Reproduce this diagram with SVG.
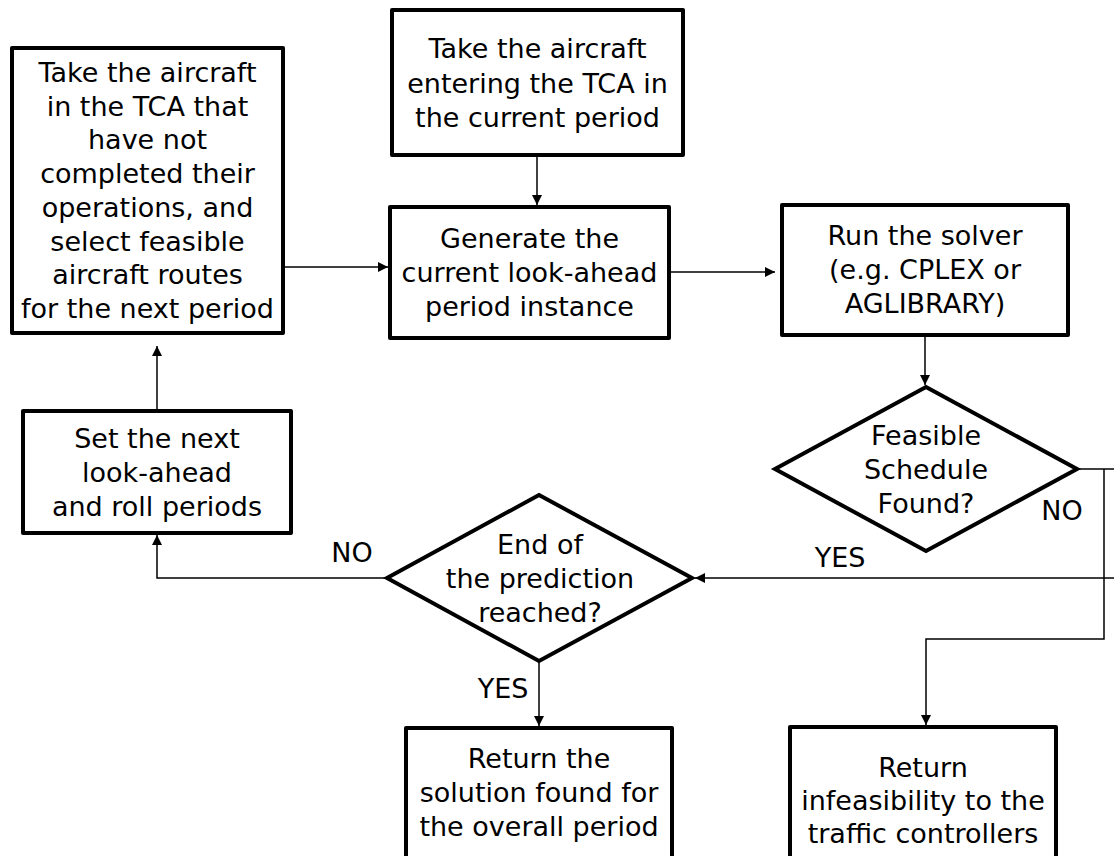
<svg xmlns="http://www.w3.org/2000/svg" width="1114" height="856" viewBox="0 0 1114 856">
  <style>
    .box { fill: #ffffff; stroke: #000000; stroke-width: 4; stroke-linejoin: round; }
    .dia { fill: #ffffff; stroke: #000000; stroke-width: 4; stroke-linejoin: miter; }
    .lbl { font-family: "DejaVu Sans", "Liberation Sans", sans-serif; font-size: 27px; fill: #000000; text-anchor: middle; }
    .conn { fill: none; stroke: #000000; stroke-width: 1.5; }
  </style>
  <defs>
    <marker id="arrow" viewBox="0 0 10 10" refX="10" refY="5" markerWidth="10" markerHeight="10" markerUnits="userSpaceOnUse" orient="auto">
      <path d="M0,0 L10,5 L0,10 Z" fill="#000000"/>
    </marker>
  </defs>

  <!-- connectors -->
  <g id="connectors">
    <path class="conn" d="M537,146 V205" marker-end="url(#arrow)"/>
    <path class="conn" d="M285,267 H388" marker-end="url(#arrow)"/>
    <path class="conn" d="M671,272 H775" marker-end="url(#arrow)"/>
    <path class="conn" d="M925,327 V385" marker-end="url(#arrow)"/>
    <path class="conn" d="M1077,469 H1120"/>
    <path class="conn" d="M1104,469 V639 H926 V725" marker-end="url(#arrow)"/>
    <path class="conn" d="M1120,578 H695" marker-end="url(#arrow)"/>
    <path class="conn" d="M539,661 V726" marker-end="url(#arrow)"/>
    <path class="conn" d="M387,578 H157 V535" marker-end="url(#arrow)"/>
    <path class="conn" d="M157,409 V346" marker-end="url(#arrow)"/>
    <text class="lbl" x="1062" y="520">NO</text>
    <text class="lbl" x="840" y="567">YES</text>
    <text class="lbl" x="352" y="562">NO</text>
    <text class="lbl" x="503" y="698">YES</text>
  </g>

  <g id="select-routes">
    <rect class="box" x="12" y="48" width="271" height="285"/>
    <text class="lbl" x="147.5" y="82">Take the aircraft</text>
    <text class="lbl" x="147.5" y="115.7">in the TCA that</text>
    <text class="lbl" x="147.5" y="149.4">have not</text>
    <text class="lbl" x="147.5" y="183.1">completed their</text>
    <text class="lbl" x="147.5" y="216.8">operations, and</text>
    <text class="lbl" x="147.5" y="250.5">select feasible</text>
    <text class="lbl" x="147.5" y="284.2">aircraft routes</text>
    <text class="lbl" x="147.5" y="318">for the next period</text>
  </g>

  <g id="entering-aircraft">
    <rect class="box" x="392" y="10" width="291" height="145"/>
    <text class="lbl" x="537.5" y="58">Take the aircraft</text>
    <text class="lbl" x="537.5" y="92.5">entering the TCA in</text>
    <text class="lbl" x="537.5" y="127">the current period</text>
  </g>

  <g id="generate-instance">
    <rect class="box" x="390" y="207" width="279" height="131"/>
    <text class="lbl" x="529.5" y="248">Generate the</text>
    <text class="lbl" x="529.5" y="282">current look-ahead</text>
    <text class="lbl" x="529.5" y="316">period instance</text>
  </g>

  <g id="run-solver">
    <rect class="box" x="782" y="205" width="286" height="130"/>
    <text class="lbl" x="925" y="245">Run the solver</text>
    <text class="lbl" x="925" y="279">(e.g. CPLEX or</text>
    <text class="lbl" x="925" y="313">AGLIBRARY)</text>
  </g>

  <g id="feasible-check">
    <polygon class="dia" points="926,387 1077,469 926,551 775,469"/>
    <text class="lbl" x="926" y="445">Feasible</text>
    <text class="lbl" x="926" y="479">Schedule</text>
    <text class="lbl" x="926" y="513">Found?</text>
  </g>

  <g id="end-check">
    <polygon class="dia" points="539,495 692,578 539,661 387,578"/>
    <text class="lbl" x="540" y="554">End of</text>
    <text class="lbl" x="540" y="588">the prediction</text>
    <text class="lbl" x="540" y="622">reached?</text>
  </g>

  <g id="next-periods">
    <rect class="box" x="23" y="411" width="268" height="122"/>
    <text class="lbl" x="157" y="448">Set the next</text>
    <text class="lbl" x="157" y="482">look-ahead</text>
    <text class="lbl" x="157" y="516">and roll periods</text>
  </g>

  <g id="return-solution">
    <rect class="box" x="406" y="728" width="266" height="132"/>
    <text class="lbl" x="539" y="768">Return the</text>
    <text class="lbl" x="539" y="802">solution found for</text>
    <text class="lbl" x="539" y="836">the overall period</text>
  </g>

  <g id="return-infeasible">
    <rect class="box" x="790" y="727" width="266" height="133"/>
    <text class="lbl" x="923" y="777">Return</text>
    <text class="lbl" x="923" y="810">infeasibility to the</text>
    <text class="lbl" x="923" y="843">traffic controllers</text>
  </g>
</svg>
